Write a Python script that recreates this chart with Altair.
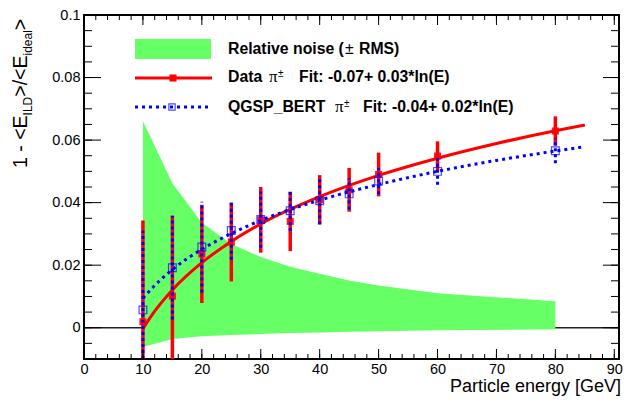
import altair as alt
import pandas as pd

# ---------------- data ----------------
energy = [10, 15, 20, 25, 30, 35, 40, 45, 50, 60, 80]
data_y = [0.0019, 0.0101, 0.0236, 0.0274, 0.0345, 0.0340, 0.0409, 0.0441, 0.0490, 0.0549, 0.0629]
data_err = [0.0324, 0.0257, 0.0157, 0.0126, 0.0105, 0.0095, 0.0079, 0.0070, 0.0070, 0.0047, 0.0047]
sim_y = [0.0057, 0.0192, 0.0258, 0.0311, 0.0346, 0.0374, 0.0406, 0.0428, 0.0469, 0.0500, 0.0566]
sim_err = [0.0253, 0.0166, 0.0145, 0.0094, 0.0090, 0.0065, 0.0075, 0.0050, 0.0042, 0.0043, 0.0040]

noise_e = [10, 15, 20, 25, 30, 35, 40, 45, 50, 60, 80]
noise_hi = [0.0661, 0.0462, 0.0336, 0.0268, 0.0226, 0.0195, 0.0173, 0.0151, 0.0135, 0.0110, 0.0085]
noise_lo = [-0.0062, -0.0036, -0.0027, -0.0023, -0.0020, -0.0017, -0.0015, -0.0013, -0.0011, -0.0008, -0.0005]

fit_e = [10, 12, 15, 20, 25, 30, 40, 50, 60, 70, 80, 85]
fit_data = [-0.0003, 0.0053, 0.0121, 0.0208, 0.0276, 0.0332, 0.0419, 0.0487, 0.0542, 0.0589, 0.0630, 0.0648]
fit_sim = [0.0094, 0.0135, 0.0186, 0.0251, 0.0301, 0.0343, 0.0408, 0.0458, 0.0500, 0.0535, 0.0565, 0.0579]

x_ticks = [0, 10, 20, 30, 40, 50, 60, 70, 80, 90]
x_minor = list(range(0, 91, 2))
y_ticks = [0, 0.02, 0.04, 0.06, 0.08, 0.1]
y_minor = [round(-0.01 + 0.005 * i, 3) for i in range(23)]

legend_noise = ["Relative noise (", "\u00b1", "RMS)"]
legend_data = ["Data", "\u03c0", "\u00b1", "Fit: -0.07+ 0.03*ln(E)"]
legend_sim = ["QGSP_BERT", "\u03c0", "\u00b1", "Fit: -0.04+ 0.02*ln(E)"]
y_title = ["1 - <E", "ILD", ">/<E", "ideal", ">"]
x_title = "Particle energy [GeV]"

# ---------------- tables ----------------
pts = pd.DataFrame({"E": energy, "d": data_y, "s": sim_y})
pts["dlo"] = pts["d"] - pd.Series(data_err)
pts["dhi"] = pts["d"] + pd.Series(data_err)
pts["slo"] = pts["s"] - pd.Series(sim_err)
pts["shi"] = pts["s"] + pd.Series(sim_err)
band = pd.DataFrame({"E": noise_e, "hi": noise_hi, "lo": noise_lo})
fits = pd.DataFrame({"E": fit_e, "fd": fit_data, "fs": fit_sim})
one = pd.DataFrame({"k": [0]})
zero = pd.DataFrame({"x0": [0], "x1": [90.8], "y": [0]})

PAD_L, PAD_T, PAD_R, PAD_B = 76, 7, 4, 37
W, H = 535, 344
OX, OY = 8 + PAD_L, 8 + PAD_T   # page position of the plot's top-left corner


def px(v):
    return v - OX


def py(v):
    return v - OY


FONT = "Liberation Sans"
RED = "#ff0000"
BLUE = "#0000ff"
GREEN = "#66ff66"

xs = alt.Scale(domain=[0, 90.8], nice=False, zero=False)
ys = alt.Scale(domain=[-0.01, 0.1], nice=False, zero=False)
x_axis = alt.Axis(values=x_ticks, ticks=False, domain=False, grid=False, labelFont=FONT,
                  labelFontSize=14.5, labelColor="black", labelPadding=3, labelFlush=False,
                  labelOverlap=False)
y_axis = alt.Axis(values=y_ticks, ticks=False, domain=False, grid=False, labelFont=FONT,
                  labelFontSize=14.5, labelColor="black", labelPadding=4, labelFlush=False,
                  labelOverlap=False,
                  labelExpr="datum.value == 0 ? '0' : format(datum.value, '.2~f')")


def X(f):
    return alt.X(f, type="quantitative", scale=xs, axis=x_axis, title="")


def Y(f):
    return alt.Y(f, type="quantitative", scale=ys, axis=y_axis, title="")


layers = []

# zero line
layers.append(alt.Chart(zero).mark_rule(color="#222222", strokeWidth=1.5).encode(
    x=X("x0"), x2="x1", y=Y("y")))

# noise band
layers.append(alt.Chart(band).mark_area(color=GREEN, opacity=1, interpolate="linear").encode(
    x=X("E"), y=Y("hi"), y2="lo"))

# red fit
layers.append(alt.Chart(fits).mark_line(color=RED, strokeWidth=3, interpolate="monotone").encode(
    x=X("E"), y=Y("fd")))

# red error bars + points
layers.append(alt.Chart(pts).mark_rule(color=RED, strokeWidth=3.5, clip=True).encode(
    x=X("E"), y=Y("dlo"), y2="dhi"))
layers.append(alt.Chart(pts).mark_square(color=RED, size=50, opacity=0.9).encode(
    x=X("E"), y=Y("d")))

# blue error bars + points
layers.append(alt.Chart(pts).mark_rule(color=BLUE, strokeWidth=3, strokeDash=[3, 3], clip=True).encode(
    x=X("E"), y=Y("slo"), y2="shi"))
layers.append(alt.Chart(pts).mark_square(filled=False, color=BLUE, strokeWidth=1.2, size=60).encode(
    x=X("E"), y=Y("s")))

# blue fit
layers.append(alt.Chart(fits).mark_line(color=BLUE, strokeWidth=3, strokeDash=[3, 4],
                                        interpolate="monotone").encode(
    x=X("E"), y=Y("fs")))

# inward ticks
xmaj = pd.DataFrame({"v": x_ticks})
xmin = pd.DataFrame({"v": x_minor})
ymaj = pd.DataFrame({"v": y_ticks})
ymin = pd.DataFrame({"v": y_minor})
tick = dict(color="black", strokeWidth=1)
layers.append(alt.Chart(xmaj).mark_rule(**tick).encode(x=X("v"), y=alt.value(H), y2=alt.value(H - 10)))
layers.append(alt.Chart(xmin).mark_rule(**tick).encode(x=X("v"), y=alt.value(H), y2=alt.value(H - 5)))
layers.append(alt.Chart(xmaj).mark_rule(**tick).encode(x=X("v"), y=alt.value(0), y2=alt.value(10)))
layers.append(alt.Chart(xmin).mark_rule(**tick).encode(x=X("v"), y=alt.value(0), y2=alt.value(5)))
layers.append(alt.Chart(ymaj).mark_rule(**tick).encode(y=Y("v"), x=alt.value(0), x2=alt.value(17)))
layers.append(alt.Chart(ymin).mark_rule(**tick).encode(y=Y("v"), x=alt.value(0), x2=alt.value(8)))
layers.append(alt.Chart(ymaj).mark_rule(**tick).encode(y=Y("v"), x=alt.value(W), x2=alt.value(W - 16)))
layers.append(alt.Chart(ymin).mark_rule(**tick).encode(y=Y("v"), x=alt.value(W), x2=alt.value(W - 8)))

# legend symbols (page coordinates converted to plot coordinates)
layers.append(alt.Chart(one).mark_rect(color=GREEN).encode(
    x=alt.value(px(135)), x2=alt.value(px(211)), y=alt.value(py(39)), y2=alt.value(py(59))))
layers.append(alt.Chart(one).mark_rule(color=RED, strokeWidth=3).encode(
    x=alt.value(px(135)), x2=alt.value(px(212)), y=alt.value(py(78))))
layers.append(alt.Chart(one).mark_square(color=RED, size=50, opacity=1).encode(
    x=alt.value(px(173)), y=alt.value(py(78))))
layers.append(alt.Chart(one).mark_rule(color=BLUE, strokeWidth=3, strokeDash=[3, 4]).encode(
    x=alt.value(px(135)), x2=alt.value(px(212)), y=alt.value(py(107))))
layers.append(alt.Chart(one).mark_square(filled=False, color=BLUE, strokeWidth=1.2, size=40).encode(
    x=alt.value(px(172)), y=alt.value(py(107))))


def txt(s, x, y, size, weight="normal", font=FONT, angle=0, align="left"):
    kw = dict(text=s, font=font, fontSize=size, fontWeight=weight, color="black",
              align=align, baseline="alphabetic")
    if angle:
        kw["angle"] = angle
    return alt.Chart(one).mark_text(**kw).encode(x=alt.value(px(x)), y=alt.value(py(y)))


LS = 15.8
layers.append(txt(legend_noise[0], 228, 54, LS, "bold"))
layers.append(txt(legend_noise[1], 345, 54, LS))
layers.append(txt(legend_noise[2], 359, 54, LS, "bold"))
layers.append(txt(legend_data[0], 228, 82, LS, "bold"))
layers.append(txt(legend_data[1], 269, 82, 17, font="Liberation Serif"))
layers.append(txt(legend_data[2], 278, 77, 10))
layers.append(txt(legend_data[3], 299, 82, LS, "bold"))
layers.append(txt(legend_sim[0], 228, 112, LS, "bold"))
layers.append(txt(legend_sim[1], 335, 112, 17, font="Liberation Serif"))
layers.append(txt(legend_sim[2], 344, 107, 10))
layers.append(txt(legend_sim[3], 363, 112, LS, "bold"))

# axis titles
layers.append(txt(x_title, 621, 391.5, 18, align="right"))
ty = [168, 115.4, 96.7, 55.5, 30.2]
tx = [27, 31.5, 27, 31.5, 27]
tsz = [19.5, 12, 19.5, 12, 19.5]
for s, xx, yy, sz in zip(y_title, tx, ty, tsz):
    layers.append(txt(s, xx, yy, sz, angle=270))

chart = alt.layer(*layers).properties(
    width=W, height=H,
    padding={"left": PAD_L, "top": PAD_T, "right": PAD_R, "bottom": PAD_B},
    autosize=alt.AutoSizeParams(type="none"),
    background="white",
).configure_view(stroke="black", strokeWidth=2)

chart.save("out.html", embed_options={"renderer": "svg", "actions": False})
